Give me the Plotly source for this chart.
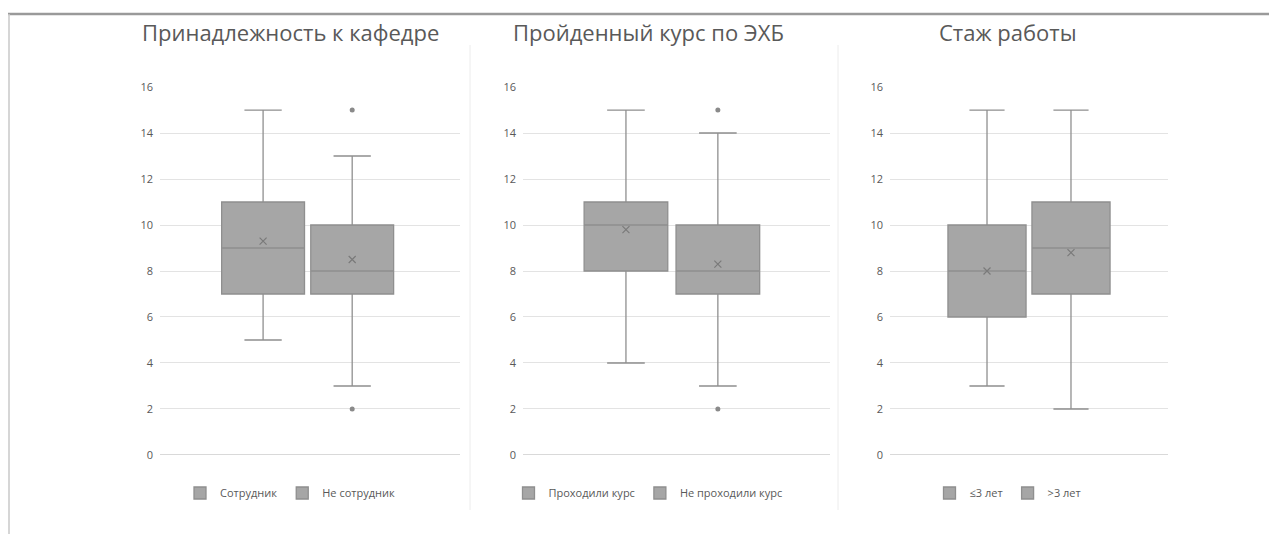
import plotly.graph_objects as go

W, H = 1277, 534
OFF = 8  # page body offset in the browser

titles = ["Принадлежность к кафедре", "Пройденный курс по ЭХБ", "Стаж работы"]
groups = [["Сотрудник", "Не сотрудник"],
          ["Проходили курс", "Не проходили курс"],
          ["≤3 лет", ">3 лет"]]
q1 = [[7, 7], [8, 7], [6, 7]]
median = [[9, 8], [10, 8], [8, 9]]
q3 = [[11, 10], [11, 10], [10, 11]]
lowerfence = [[5, 3], [4, 3], [3, 2]]
upperfence = [[15, 13], [15, 14], [15, 15]]
means = [[9.3, 8.5], [9.8, 8.3], [8.0, 8.8]]
outliers = [[[], [15, 2]], [[], [15, 2]], [[], []]]

yticks = [0, 2, 4, 6, 8, 10, 12, 14, 16]


def px(x):
    return (x - OFF) / W


def py(y):
    return (H - (y - OFF)) / H


# layout (pixel) parameters
plot_px = [(160, 460), (523, 830), (890, 1168)]
xranges = [[-1.157, 2.21], [-1.12, 2.22], [-1.155, 2.155]]
bwidth = [0.93, 0.91, 0.93]
title_x = [290, 648, 1008]
legend_x = [290, 648, 1008]
y0_px, y16_px = 455, 87

FILL = "#a6a6a6"
LINE = "#8f8f8f"
TXT = "#595959"

fig = go.Figure()
for p in range(3):
    ax = "" if p == 0 else str(p + 1)
    lg = "legend" if p == 0 else "legend" + str(p + 1)
    for g in range(2):
        fig.add_trace(go.Box(
            x=[g], q1=[q1[p][g]], median=[median[p][g]], q3=[q3[p][g]],
            lowerfence=[lowerfence[p][g]], upperfence=[upperfence[p][g]],
            name=groups[p][g], width=bwidth[p], whiskerwidth=0.45,
            fillcolor=FILL, line=dict(color=LINE, width=1.3),
            boxpoints=False, xaxis="x" + ax, yaxis="y" + ax,
            legend=lg, showlegend=True, hoverinfo="skip"))
        fig.add_trace(go.Scatter(
            x=[g], y=[means[p][g]], mode="markers",
            marker=dict(symbol="x-thin", size=7, line=dict(color="#7a7a7a", width=1.2)),
            xaxis="x" + ax, yaxis="y" + ax, showlegend=False, hoverinfo="skip"))
        if outliers[p][g]:
            fig.add_trace(go.Scatter(
                x=[g] * len(outliers[p][g]), y=outliers[p][g], mode="markers",
                marker=dict(symbol="circle", size=5, color="#8a8a8a"),
                xaxis="x" + ax, yaxis="y" + ax, showlegend=False, hoverinfo="skip"))

layout = dict(
    template="none",
    width=W, height=H, margin=dict(l=0, r=0, t=0, b=0, pad=0),
    paper_bgcolor="white", plot_bgcolor="white",
    font=dict(family="Open Sans, Noto Sans, sans-serif", color=TXT, size=11),
    boxmode="overlay", showlegend=True,
)
ydom = [py(y0_px + 0.2), py(y16_px - 0.2)]
for p in range(3):
    ax = "" if p == 0 else str(p + 1)
    xd = [px(plot_px[p][0]), px(plot_px[p][1])]
    layout["xaxis" + ax] = dict(domain=xd, range=xranges[p], showticklabels=False,
                                showgrid=False, zeroline=False, showline=False,
                                ticks="", automargin=False,
                                anchor="y" + ax, fixedrange=True)
    layout["yaxis" + ax] = dict(domain=ydom, range=[-0.01, 16.01], tickvals=yticks,
                                ticktext=[str(t) for t in yticks],
                                showgrid=True, gridcolor="#e3e3e3", gridwidth=1,
                                zeroline=True, zerolinecolor="#d9d9d9", zerolinewidth=1,
                                showline=False, ticks="",
                                automargin=False, ticklabelstandoff=6,
                                tickfont=dict(size=11, color=TXT),
                                anchor="x" + ax, fixedrange=True)
    lg = "legend" if p == 0 else "legend" + str(p + 1)
    layout[lg] = dict(orientation="h", x=px(legend_x[p]), xanchor="center",
                      y=py(493), yanchor="middle",
                      font=dict(size=11, color=TXT), bgcolor="rgba(0,0,0,0)",
                      borderwidth=0, itemwidth=30, tracegroupgap=0)
fig.update_layout(**layout)

for p in range(3):
    fig.add_annotation(text=titles[p], x=px(title_x[p]), y=py(32),
                       xref="paper", yref="paper", xanchor="center", yanchor="middle",
                       showarrow=False, font=dict(size=22, color=TXT))

# frame and panel separators
fig.add_shape(type="line", xref="paper", yref="paper",
              x0=px(8), x1=1, y0=py(14), y1=py(14),
              line=dict(color="#9a9a9a", width=2.5))
fig.add_shape(type="line", xref="paper", yref="paper",
              x0=px(9), x1=px(9), y0=py(14), y1=0,
              line=dict(color="#c8c8c8", width=1.5))
for sx in (470, 838):
    fig.add_shape(type="line", xref="paper", yref="paper",
                  x0=px(sx), x1=px(sx), y0=py(45), y1=py(510),
                  line=dict(color="#ececec", width=1))

fig.write_html("out.html")
